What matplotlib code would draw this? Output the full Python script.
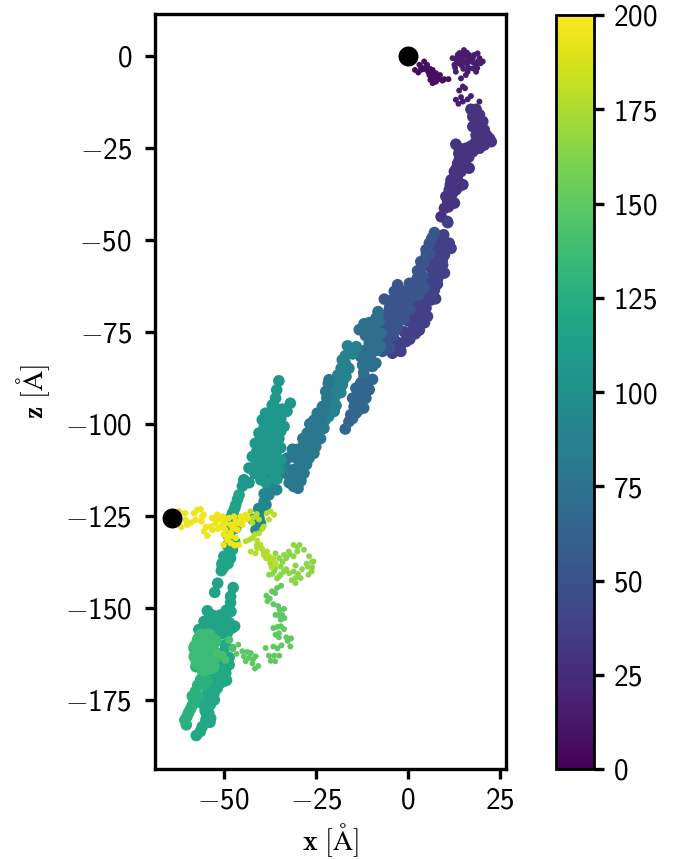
import numpy as np
import matplotlib
matplotlib.use('Agg')
import matplotlib.pyplot as plt

plt.rcParams['mathtext.fontset'] = 'custom'
plt.rcParams['mathtext.sf'] = 'cmss10'
plt.rcParams['mathtext.rm'] = 'cmss10'
plt.rcParams['mathtext.fallback'] = 'cm'

# x, z [A] of the trajectory, time given per group
small_a = [(1.9, -3.8), (3.1, -2.4), (4.4, -1.5), (2.8, -4.5), (4.3, -3.6), (5.2, -2.4), (5.5, -4.3), (6.7, -3.8), (6.4, -5.6), (7.6, -4.7),
           (6.7, -7.4), (8.1, -6.3), (8.7, -5.2), (9.4, -6.7), (11.0, -6.3), (7.6, -7.0), (6.1, -6.5), (3.5, -3.8), (3.6, -3.0), (5.0, -3.0),
           (6.0, -3.5), (7.0, -4.8), (7.3, -5.8), (8.5, -6.2), (5.8, -5.2), (7.2, -6.5), (9.9, -6.3), (6.0, -4.7)]
small_b = [(12.1, -0.6), (13.5, 0.3), (15.2, 1.6), (16.6, 0.3), (18.9, 0.7), (20.3, -1.5), (18.5, -2.4), (17.1, -1.5), (15.2, -1.5), (13.9, -2.0),
           (12.6, -2.4), (15.7, 0.0), (17.6, -0.6), (19.4, -0.6), (14.6, -0.6), (13.0, -4.3), (14.4, -6.1), (16.2, -4.3), (18.5, -4.3), (17.6, -3.4),
           (15.7, -5.2), (14.9, -8.3), (13.9, -9.4), (15.5, -8.8), (13.0, -11.9), (14.4, -11.2), (13.7, -13.0), (14.9, -12.4), (17.1, -10.9),
           (16.2, -11.8), (19.4, -12.4), (13.0, -0.8), (14.0, 0.8), (15.0, 0.5), (16.0, 0.9), (17.0, -0.5), (16.5, -1.0), (18.0, 0.3), (19.0, -1.5),
           (14.0, -1.2), (16.0, -2.3), (14.5, -2.5), (13.2, -1.2), (17.8, -1.8), (19.7, -2.0), (15.0, -3.5), (12.8, -3.2), (16.5, -3.3), (18.8, -3.3)]
purple = [(17.1, -14.5), (18.5, -14.5), (17.6, -16.5), (19.4, -16.0), (20.3, -17.8), (17.6, -19.2), (18.9, -20.1), (20.7, -20.1), (18.5, -21.5),
          (20.3, -21.9), (22.1, -22.4), (22.6, -23.3), (20.7, -24.2), (19.4, -25.1), (17.1, -24.5), (15.7, -25.1), (17.6, -26.0), (13.0, -24.0),
          (13.9, -25.1), (14.4, -27.4), (15.2, -28.7), (16.6, -30.5), (13.5, -29.2), (12.6, -31.4), (14.4, -31.4), (11.7, -33.7), (13.5, -33.7),
          (14.9, -35.0), (11.2, -36.4), (13.0, -36.4), (10.3, -38.2), (12.6, -40.0), (9.9, -41.4), (9.0, -43.7), (10.7, -45.0), (18.2, -15.5),
          (18.5, -17.5), (19.2, -19.0), (19.8, -21.0), (21.3, -21.5), (21.6, -23.0), (19.5, -23.0), (18.3, -23.5), (16.5, -25.5), (15.0, -26.0),
          (15.0, -27.0), (14.0, -28.0), (15.0, -30.0), (14.5, -29.5), (13.2, -30.5), (13.5, -32.0), (12.5, -33.0), (12.5, -35.0), (13.8, -35.5),
          (12.0, -37.5), (11.5, -39.0), (11.5, -35.0), (10.8, -39.5), (11.0, -41.0), (15.5, -29.5), (13.8, -26.5), (16.5, -27.5)]
dark = [(10.8, -45.3), (9.7, -48.6), (11.2, -50.9), (11.7, -52.3), (9.9, -51.8), (9.9, -54.1), (9.4, -56.8), (9.9, -59.0), (8.1, -56.6), (7.2, -55.4),
        (6.3, -57.7), (8.1, -60.4), (7.2, -63.6), (6.3, -66.3), (5.3, -70.8), (4.9, -68.5), (3.1, -74.5), (1.7, -68.5), (2.2, -71.3), (3.5, -72.7),
        (0.0, -76.3), (-1.9, -80.3), (-0.5, -77.6), (-4.2, -80.8), (-3.3, -77.6), (8.0, -52.0), (7.5, -54.0), (9.0, -53.0), (8.5, -58.0), (7.0, -58.0),
        (6.5, -60.0), (5.5, -62.0), (8.0, -62.0), (6.0, -64.0), (5.0, -65.0), (4.5, -67.0), (3.5, -69.0), (3.0, -66.5), (5.5, -66.0), (4.0, -71.0),
        (2.5, -73.0), (4.5, -72.5), (1.5, -73.0), (1.0, -75.0), (-1.0, -75.0), (0.5, -77.0), (-1.5, -78.0), (-3.0, -79.5), (2.0, -75.5), (0.0, -72.0),
        (1.5, -70.5), (2.5, -67.5), (6.8, -60.5), (9.3, -55.5), (9.0, -50.5), (7.5, -66.0)]
blue = [(7.2, -48.0), (5.8, -50.9), (4.9, -52.7), (3.5, -55.9), (2.6, -58.4), (5.8, -53.9), (4.0, -59.9), (2.2, -61.8), (4.4, -63.1), (3.1, -64.9),
        (0.4, -61.8), (1.7, -64.9), (0.0, -66.0), (-1.0, -64.0), (-2.8, -62.2), (-3.7, -64.0), (-4.2, -66.3), (-5.0, -68.5), (-6.4, -66.1), (-1.9, -66.0),
        (-1.0, -69.4), (-2.4, -70.7), (-3.7, -72.2), (-4.6, -74.4), (-5.5, -76.7), (-5.0, -79.4), (-6.9, -80.3), (-2.0, -71.5), (-2.8, -73.3), (6.5, -49.5),
        (5.0, -54.0), (4.5, -56.0), (3.5, -58.0), (3.0, -60.0), (2.5, -60.5), (1.5, -63.0), (0.5, -63.5), (2.8, -62.5), (3.6, -62.0), (0.8, -66.0),
        (-0.5, -67.0), (-2.5, -65.0), (-3.0, -68.0), (-4.0, -69.5), (-1.0, -71.5), (-3.0, -74.0), (-4.0, -76.0), (-6.0, -72.0), (-5.5, -70.0), (-6.0, -74.0),
        (-7.0, -73.0), (-6.5, -76.0), (-6.0, -78.5), (-4.5, -71.0), (0.5, -69.0), (-1.5, -68.5), (-7.0, -78.0)]
strand = [(-11.9, -87.1), (-9.6, -87.9), (-12.8, -88.9), (-14.1, -90.3), (-10.5, -90.7), (-11.4, -93.0), (-15.0, -93.0), (-13.2, -92.6), (-12.0, -95.7),
          (-14.6, -95.3), (-15.5, -97.5), (-16.0, -99.4), (-17.0, -101.4), (-11.0, -88.5), (-11.5, -90.0), (-12.5, -90.5), (-12.0, -92.0), (-13.5, -94.0),
          (-13.0, -96.0), (-14.0, -97.0), (-15.0, -98.5), (-13.0, -89.5)]
teal = [(-8.1, -69.5), (-8.7, -71.3), (-9.6, -73.5), (-7.8, -72.0), (-11.9, -72.8), (-13.2, -74.4), (-11.0, -74.0), (-7.3, -75.4), (-8.2, -78.0),
        (-10.5, -78.0), (-11.4, -79.9), (-11.0, -81.7), (-12.8, -81.7), (-12.3, -84.0), (-9.6, -84.4), (-8.7, -83.5), (-9.0, -73.0), (-10.0, -75.5),
        (-8.5, -75.0), (-9.0, -77.0), (-11.5, -76.0), (-9.8, -79.0), (-8.5, -80.0), (-10.0, -81.0), (-11.5, -83.0), (-10.0, -83.5), (-12.0, -86.0),
        (-9.0, -77.5), (-7.5, -79.0), (-10.5, -72.5)]
teal2 = [(-16.4, -78.8), (-14.0, -79.0), (-16.0, -80.8), (-17.8, -82.6), (-16.0, -84.9), (-18.1, -84.9), (-19.0, -86.7), (-16.8, -87.1), (-20.9, -88.3),
         (-17.8, -89.4), (-19.6, -90.3), (-20.0, -93.0), (-18.2, -91.5), (-21.4, -94.2), (-20.0, -96.6), (-23.2, -95.3), (-24.1, -97.5), (-23.2, -101.2),
         (-26.5, -100.0), (-25.4, -102.5), (-27.3, -102.5), (-24.5, -99.8), (-15.0, -81.0), (-17.0, -81.5), (-17.0, -83.5), (-18.5, -87.0), (-18.0, -86.0),
         (-17.5, -88.0), (-19.0, -89.0), (-18.5, -91.0), (-19.5, -92.0), (-21.0, -92.0), (-21.0, -96.0), (-22.0, -97.5), (-22.5, -99.0), (-24.0, -99.5),
         (-25.0, -101.0), (-21.5, -98.0), (-19.5, -95.0)]
branch = [(-21.4, -88.0), (-22.3, -91.2), (-22.8, -95.2), (-24.6, -97.1), (-22.8, -101.2), (-26.6, -100.0), (-27.2, -102.5), (-24.6, -102.5), (-28.6, -106.2),
          (-25.0, -106.2), (-31.3, -106.9), (-32.7, -109.3), (-26.8, -109.3), (-29.5, -109.8), (-28.2, -113.4), (-31.3, -112.5), (-30.0, -114.3), (-32.2, -116.0),
          (-29.8, -117.5), (-33.2, -113.4), (-21.6, -89.0), (-22.0, -93.0), (-23.0, -97.0), (-23.5, -99.0), (-24.5, -100.0), (-25.5, -99.0), (-23.7, -104.0),
          (-26.0, -104.0), (-27.0, -105.0), (-28.0, -108.0), (-30.0, -107.0), (-31.0, -109.0), (-25.5, -108.0), (-27.5, -111.0), (-30.0, -112.0), (-32.0, -114.0),
          (-29.0, -115.5), (-31.0, -117.0), (-26.5, -107.0), (-28.5, -104.0), (-33.5, -111.0)]
upper = [(-37.7, -119.3), (-39.0, -121.1), (-39.9, -123.4), (-40.4, -125.6), (-41.2, -128.8), (-46.7, -128.3), (-37.4, -117.0), (-35.6, -117.9), (-37.0, -115.2),
         (-34.5, -112.5), (-38.6, -113.4), (-38.0, -116.5), (-39.0, -119.0), (-38.5, -122.0), (-40.5, -123.0), (-40.0, -127.0), (-42.0, -126.0)]
green = [(-35.0, -88.3), (-35.6, -90.8), (-35.9, -93.0), (-36.8, -94.9), (-31.9, -94.4), (-32.8, -96.6), (-35.0, -96.6), (-38.6, -97.1), (-39.5, -98.9),
         (-35.9, -98.9), (-33.6, -100.7), (-37.7, -100.7), (-40.4, -102.5), (-36.5, -103.0), (-38.3, -104.3), (-41.4, -105.3), (-35.9, -105.3), (-42.2, -108.9),
         (-39.0, -108.0), (-35.9, -108.0), (-43.1, -112.0), (-40.0, -111.6), (-37.0, -111.1), (-34.5, -109.8), (-44.5, -115.2), (-43.1, -116.0), (-44.9, -116.9),
         (-39.9, -115.2), (-36.0, -95.5), (-34.0, -96.0), (-37.5, -98.5), (-36.0, -97.0), (-34.5, -98.5), (-36.0, -101.0), (-39.0, -101.0), (-38.0, -102.5),
         (-34.5, -102.0), (-40.0, -104.0), (-37.5, -105.5), (-39.5, -106.0), (-35.0, -104.0), (-41.0, -107.5), (-37.0, -107.0), (-34.5, -106.5), (-41.0, -110.0),
         (-38.0, -110.0), (-36.0, -110.0), (-42.0, -112.0), (-38.5, -112.0), (-35.5, -112.5), (-41.5, -113.5), (-40.0, -114.0), (-36.5, -113.5), (-38.5, -116.0),
         (-35.5, -115.0)]
link = [(-45.8, -119.3), (-46.7, -122.0), (-47.6, -124.3), (-48.1, -127.0), (-48.6, -130.6), (-47.6, -134.2), (-49.5, -135.9), (-50.4, -137.9), (-48.1, -134.2),
        (-49.9, -136.0), (-50.4, -138.3), (-50.6, -139.9), (-48.1, -136.5), (-51.6, -143.3), (-52.4, -145.8), (-47.4, -144.5), (-48.1, -146.9), (-48.1, -148.6),
        (-49.3, -150.7), (-54.4, -150.8), (-55.3, -153.7), (-52.2, -153.2), (-49.9, -153.2), (-56.7, -155.9), (-53.5, -155.5), (-47.7, -155.5), (-49.0, -156.9),
        (-58.0, -160.9), (-46.2, -120.5), (-47.0, -123.0), (-48.0, -129.0), (-47.0, -132.0), (-49.0, -133.0), (-48.8, -138.0), (-50.0, -139.0), (-47.2, -125.0),
        (-48.0, -125.5), (-53.0, -152.0), (-51.0, -152.0), (-51.0, -155.0), (-49.0, -155.0), (-54.0, -153.0), (-53.0, -157.0), (-55.0, -155.0), (-50.5, -157.0),
        (-52.0, -158.0), (-48.5, -154.0), (-48.0, -151.0), (-56.0, -158.0), (-47.0, -155.0)]
lower = [(-48.5, -165.5), (-49.4, -167.7), (-49.2, -169.7), (-51.7, -171.8), (-53.5, -169.5), (-54.4, -173.1), (-55.8, -175.9), (-53.6, -176.3), (-54.0, -178.6),
         (-53.7, -181.1), (-55.8, -182.3), (-56.3, -183.6), (-57.4, -184.7), (-54.5, -179.5), (-50.5, -163.5), (-52.0, -167.0), (-52.0, -166.0), (-50.0, -165.0),
         (-50.0, -168.0), (-52.0, -169.0), (-51.0, -170.5), (-53.0, -171.0), (-52.5, -173.0), (-54.0, -175.0), (-52.5, -175.0), (-55.0, -177.0), (-53.5, -180.0),
         (-54.8, -180.5), (-55.0, -178.0), (-50.0, -170.0), (-48.5, -163.5), (-49.5, -160.0), (-50.0, -162.0)]
tail = [(-56.2, -169.5), (-57.6, -172.7), (-55.5, -171.0), (-58.1, -175.9), (-59.0, -177.6), (-59.9, -179.5), (-60.1, -181.8), (-55.5, -168.0), (-57.0, -171.0),
        (-58.5, -174.0), (-57.0, -174.0), (-59.5, -178.5), (-58.5, -176.5), (-60.5, -180.5), (-57.5, -166.0), (-56.0, -166.5), (-54.5, -170.0)]
blob = [(-54.9, -158.7), (-56.7, -158.7), (-53.5, -158.7), (-55.8, -160.9), (-53.1, -161.4), (-57.6, -163.2), (-55.3, -164.1), (-52.2, -163.0), (-53.5, -165.9),
        (-55.3, -166.7), (-54.0, -157.5), (-56.0, -157.5), (-57.5, -160.5), (-54.0, -163.0), (-57.0, -165.0), (-52.5, -159.0), (-53.0, -166.0)]
mid = [(-48.5, -158.7), (-50.3, -162.8), (-51.7, -162.3), (-49.5, -164.1), (-47.6, -160.9)]
small_c = [(-44.9, -161.8), (-44.5, -163.2), (-42.6, -162.3), (-43.1, -163.6), (-41.3, -163.2), (-42.2, -165.1), (-40.6, -165.8), (-38.6, -160.9), (-37.2, -164.4),
           (-36.3, -163.0), (-34.9, -163.0), (-35.4, -161.0), (-34.3, -160.2), (-31.7, -158.3), (-32.6, -159.0), (-31.9, -160.5), (-35.9, -157.3), (-35.0, -156.9),
           (-33.6, -155.8), (-35.4, -155.2), (-34.5, -153.2), (-35.9, -151.9), (-34.1, -151.9), (-33.6, -150.3), (-35.2, -149.5), (-36.5, -149.0), (-38.1, -148.2),
           (-38.4, -146.7), (-36.9, -145.5), (-35.5, -144.6), (-34.4, -144.0), (-46.0, -160.0), (-46.5, -162.5), (-44.0, -164.5), (-42.0, -164.0), (-43.5, -162.0),
           (-41.5, -166.5), (-37.7, -163.0), (-36.0, -164.5), (-36.5, -160.5), (-33.0, -158.0), (-35.0, -158.0), (-36.5, -155.5), (-34.5, -155.0), (-35.0, -152.0),
           (-34.8, -150.5), (-37.5, -147.5), (-36.0, -146.0), (-33.5, -152.8)]
small_d = [(-37.7, -141.0), (-36.3, -140.1), (-35.0, -141.5), (-33.6, -140.1), (-34.5, -138.8), (-35.9, -137.9), (-37.3, -137.9), (-32.2, -140.6), (-30.5, -141.9),
           (-29.1, -141.9), (-30.5, -143.3), (-31.0, -140.1), (-28.7, -139.5), (-27.2, -138.8), (-26.1, -140.1), (-25.6, -137.4), (-26.8, -136.0), (-28.2, -134.2),
           (-29.4, -132.9), (-31.0, -132.9), (-32.3, -134.7), (-31.0, -136.0), (-33.6, -135.6), (-34.9, -136.5), (-35.9, -135.2), (-30.0, -134.7), (-36.0, -139.3),
           (-36.8, -140.8), (-35.5, -142.0), (-34.5, -141.0), (-33.0, -139.5), (-34.0, -137.5), (-33.0, -136.5), (-32.0, -135.5), (-30.5, -138.5), (-31.5, -142.5),
           (-29.8, -140.8), (-27.5, -138.0), (-26.0, -137.5), (-27.0, -141.0), (-26.0, -139.0), (-30.0, -133.5)]
small_e = [(-37.7, -136.0), (-39.1, -135.6), (-38.2, -134.7), (-40.9, -133.8), (-42.6, -134.7), (-41.3, -135.2), (-40.0, -132.9), (-42.7, -123.8), (-41.3, -125.2),
           (-40.4, -126.0), (-43.1, -126.0), (-42.2, -126.9), (-38.3, -124.3), (-37.2, -123.8), (-36.3, -124.7), (-37.7, -126.0), (-39.1, -127.9), (-40.4, -129.7),
           (-42.2, -131.0), (-44.0, -131.9), (-40.9, -131.7), (-40.0, -133.3), (-41.0, -124.5), (-42.0, -125.5), (-39.5, -128.5), (-41.5, -130.0), (-43.0, -131.5),
           (-41.0, -133.0), (-39.0, -135.0), (-39.5, -134.0), (-37.5, -137.0), (-38.5, -136.5), (-36.5, -136.5), (-36.0, -138.0), (-37.0, -139.0)]
yellow = [(-62.1, -123.8), (-60.5, -124.3), (-60.3, -126.1), (-61.5, -128.0), (-59.9, -127.4), (-58.8, -126.8), (-57.6, -126.1), (-58.0, -124.3), (-57.1, -123.4),
          (-56.2, -123.2), (-55.8, -125.2), (-55.4, -124.7), (-56.0, -126.5), (-53.1, -125.6), (-51.7, -124.7), (-50.2, -125.2), (-52.2, -127.0), (-53.5, -127.9),
          (-55.3, -129.2), (-54.4, -130.4), (-50.7, -127.9), (-49.5, -128.8), (-48.1, -127.4), (-46.7, -126.5), (-45.4, -125.2), (-44.0, -124.7), (-49.0, -130.6),
          (-50.0, -132.9), (-48.1, -132.4), (-46.7, -131.0), (-45.8, -132.9), (-48.1, -129.7), (-44.9, -127.4), (-46.2, -128.8), (-51.0, -126.0), (-48.6, -125.6),
          (-47.2, -125.2), (-52.0, -125.5), (-50.0, -126.5), (-49.5, -127.0), (-47.5, -128.5), (-47.0, -127.5), (-45.7, -127.0), (-44.5, -126.0), (-43.5, -125.5),
          (-51.5, -128.5), (-50.0, -130.0), (-49.0, -131.5), (-48.0, -130.5), (-47.0, -133.0), (-53.0, -128.8), (-54.7, -128.0)]

# group order = time order, later groups lie on top
groups = [small_a, small_b, purple, dark, blue, strand, teal, teal2, branch, upper, green, link, lower, tail, blob, mid,
          small_c, small_d, small_e, yellow]
group_t = [7, 15, 30, 38, 52, 66, 72, 88, 80, 92, 106, 116, 120, 128, 136, 142, 150, 165, 178, 195]
group_s = [18, 18, 70, 70, 70, 70, 70, 70, 70, 70, 70, 70, 70, 70, 105, 35, 18, 18, 18, 22]

start_x = [0.0, -63.9]
start_z = [0.0, -125.6]

cbar_ticks = [0, 25, 50, 75, 100, 125, 150, 175, 200]
x_ticks = [-50, -25, 0, 25]
z_ticks = [0, -25, -50, -75, -100, -125, -150, -175]


def tick_text(v):
    return r'$\mathsf{%d}$' % v


fig = plt.figure(figsize=(6.74, 8.6), dpi=100)
ax = fig.add_axes([155 / 674, 91 / 860, 351 / 674, 755 / 860])
for g, gt, gs in zip(groups, group_t, group_s):
    pts = np.array(g)
    sc = ax.scatter(pts[:, 0], pts[:, 1], c=[gt] * len(pts), s=gs, cmap='viridis', vmin=0, vmax=200, linewidths=0)
ax.scatter(start_x, start_z, c='k', s=207, linewidths=0, zorder=5)

ax.set_xlim(-68.6, 26.6)
ax.set_ylim(-193.8, 11.4)
ax.set_xticks(x_ticks)
ax.set_xticklabels([tick_text(v) for v in x_ticks])
ax.set_yticks(z_ticks)
ax.set_yticklabels([tick_text(v) for v in z_ticks])
ax.tick_params(width=2.4, length=7.5, labelsize=21)
ax.tick_params(axis='x', pad=5)
ax.tick_params(axis='y', pad=9)
for s in ax.spines.values():
    s.set_linewidth(2.4)
ax.set_xlabel(r'$\mathbf{x}\ [\mathrm{\AA}]$', fontsize=20, labelpad=5, math_fontfamily='cm')
ax.set_ylabel(r'$\mathbf{z}\ [\mathrm{\AA}]$', fontsize=20, labelpad=9, math_fontfamily='cm')

cax = fig.add_axes([556 / 674, 91 / 860, 38 / 674, 754 / 860])
cb = fig.colorbar(sc, cax=cax)
cb.set_ticks(cbar_ticks)
cb.set_ticklabels([tick_text(v) for v in cbar_ticks])
cb.ax.tick_params(width=2.4, length=7.5, labelsize=21, pad=6)
cb.outline.set_linewidth(2)

plt.savefig('out.png', dpi=100)
